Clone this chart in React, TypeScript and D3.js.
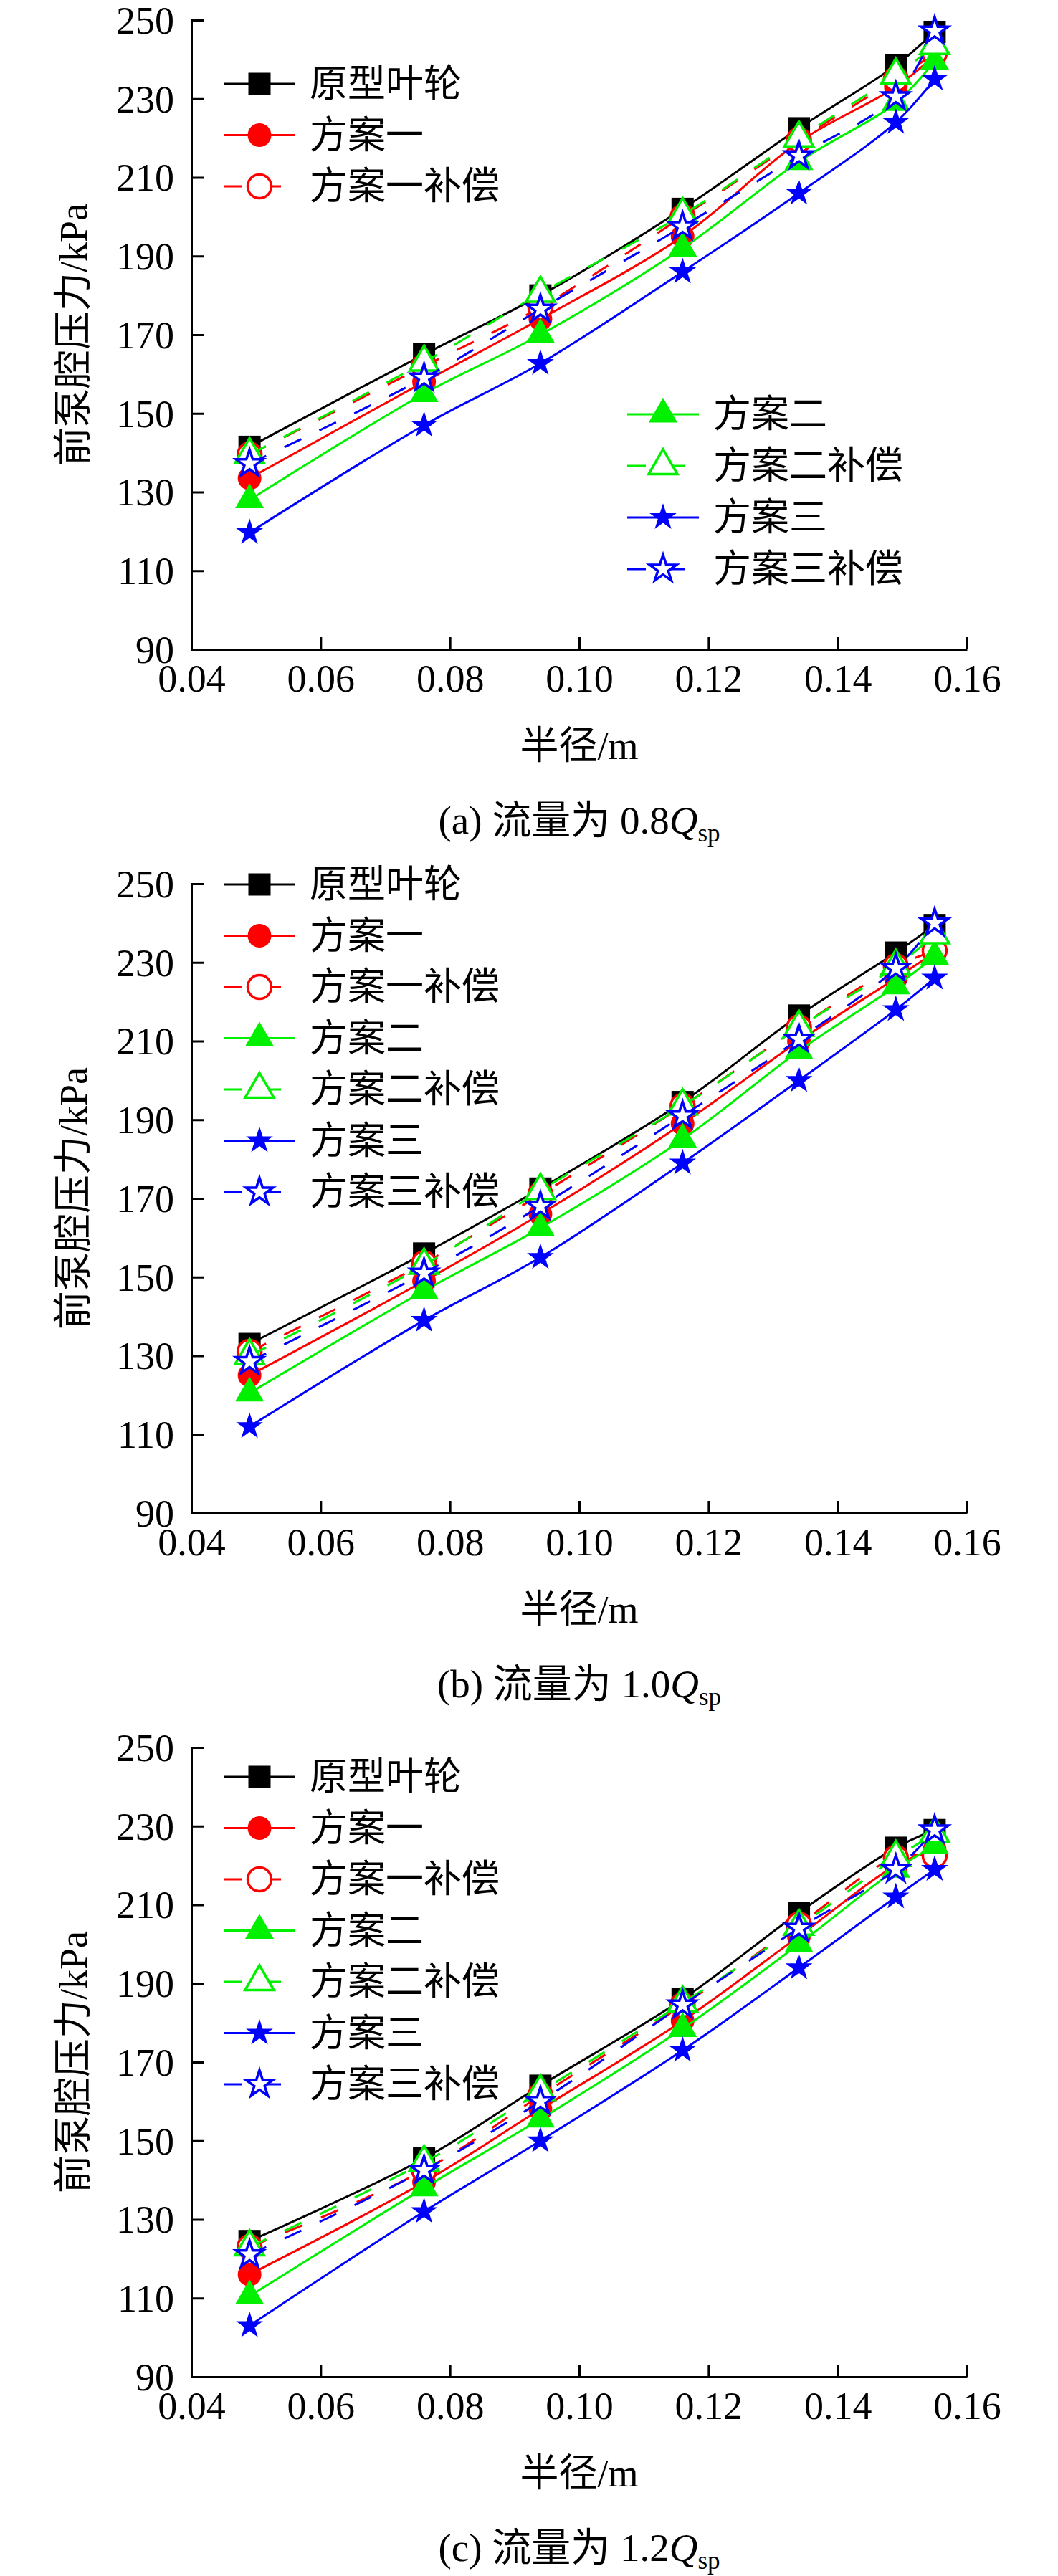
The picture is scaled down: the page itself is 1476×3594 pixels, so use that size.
import React, { useEffect, useRef } from "react";
import * as d3 from "d3";

// 半径 (m)
const radius = [0.049, 0.076, 0.094, 0.116, 0.134, 0.149, 0.155];
const xTicks = [0.04, 0.06, 0.08, 0.1, 0.12, 0.14, 0.16];
const yTicks = [90, 110, 130, 150, 170, 190, 210, 230, 250];

const seriesNames = ["原型叶轮", "方案一", "方案一补偿", "方案二", "方案二补偿", "方案三", "方案三补偿"];
const captionLabels = ["(a) 流量为 0.8", "(b) 流量为 1.0", "(c) 流量为 1.2"];

// 前泵腔压力 (kPa), 0.8Qsp
const q08Proto = [141.5, 165, 180, 202, 222.5, 238.5, 247];
const q08S1 = [133.5, 158, 174, 195, 219, 233, 241];
const q08S1c = [139.5, 162, 177, 200, 219.5, 235, 241.5];
const q08S2 = [128, 155, 170, 192, 214, 229, 239.5];
const q08S2c = [139.5, 163, 180.5, 200.5, 220, 236, 243.5];
const q08S3 = [119.7, 147, 162.7, 186, 206, 224, 235];
const q08S3c = [137.2, 159, 176.5, 197.5, 215.5, 230.5, 247.2];

// 1.0Qsp
const q10Proto = [133, 156, 172.5, 194.5, 216.5, 232.5, 239.5];
const q10S1 = [125, 149, 166, 189, 210, 226, 232.5];
const q10S1c = [131, 153.5, 171, 193.5, 213.5, 229, 233];
const q10S2 = [120.5, 146.5, 162.5, 185, 207.5, 224, 231.5];
const q10S2c = [130, 153, 172, 193.5, 213.5, 229, 237];
const q10S3 = [112, 139, 155, 179, 200, 218, 226];
const q10S3c = [128.5, 151, 168, 191, 210.5, 228.5, 240];

// 1.2Qsp
const q12Proto = [124.5, 145.5, 164, 186, 208, 224.5, 229];
const q12S1 = [116, 139.5, 158, 180.5, 202, 220, 224];
const q12S1c = [123, 142.5, 161.5, 184.5, 205, 222, 222.5];
const q12S2 = [110.5, 138, 155.5, 178.5, 200, 219, 225];
const q12S2c = [123, 144.5, 162.5, 185, 204.5, 222, 228];
const q12S3 = [103, 132, 150, 173, 194, 212, 219];
const q12S3c = [121, 142.5, 160, 184.5, 204, 219, 229];

const panelValues = [
  [q08Proto, q08S1, q08S1c, q08S2, q08S2c, q08S3, q08S3c],
  [q10Proto, q10S1, q10S1c, q10S2, q10S2c, q10S3, q10S3c],
  [q12Proto, q12S1, q12S1c, q12S2, q12S2c, q12S3, q12S3c],
];

// styles per series
const seriesColor = ["#000000", "#ff0000", "#ff0000", "#00f000", "#00f000", "#0000ff", "#0000ff"];
const seriesShape = ["square", "circle", "circle", "triangle", "triangle", "star", "star"];
const seriesFilled = [true, true, false, true, false, true, false];
const seriesDashed = [false, false, true, false, true, false, true];

const WIDTH = 1476;
const HEIGHT = 3594;
const PLOT_LEFT = 267;
const PLOT_RIGHT = 1349;
const PLOT_HEIGHT = 878;
const PANEL_TOPS = [28, 1233, 2438];
const SERIF = "'Liberation Serif', 'Times New Roman', 'Noto Sans CJK SC', serif";

const symbolFor = (shape: string) => {
  if (shape === "square") return d3.symbol(d3.symbolSquare, 31 * 31);
  if (shape === "circle") return d3.symbol(d3.symbolCircle, Math.PI * 16.5 * 16.5);
  if (shape === "triangle") return d3.symbol(d3.symbolTriangle, 700);
  return d3.symbol(d3.symbolStar, 440);
};

const drawMarker = (g: any, i: number, cx: number, cy: number) => {
  const filled = seriesFilled[i];
  g.append("path")
    .attr("d", symbolFor(seriesShape[i])())
    .attr("transform", `translate(${cx},${cy})`)
    .attr("fill", filled ? seriesColor[i] : "#ffffff")
    .attr("stroke", filled ? "none" : seriesColor[i])
    .attr("stroke-width", filled ? 0 : 3.5);
};

// legend rows: [series, x, offset from panel top]
const legendLayout = (p: number) => {
  if (p === 0) {
    return [
      [0, 312, 89], [1, 312, 160.5], [2, 312, 232],
      [3, 875, 550], [4, 875, 622], [5, 875, 694], [6, 875, 766],
    ];
  }
  const start = p === 1 ? 1 : 41;
  return seriesNames.map((_, i) => [i, 312, start + i * 71.5]);
};

const App: React.FC = () => {
  const svgRef = useRef<SVGSVGElement>(null);

  useEffect(() => {
    if (!svgRef.current) return;
    const svg = d3.select(svgRef.current);
    svg.selectAll("*").remove();

    const x = d3.scaleLinear().domain([0.04, 0.16]).range([PLOT_LEFT, PLOT_RIGHT]);
    const midX = (PLOT_LEFT + PLOT_RIGHT) / 2;

    PANEL_TOPS.forEach((top, p) => {
      const bottom = top + PLOT_HEIGHT;
      const y = d3.scaleLinear().domain([90, 250]).range([bottom, top]);
      const g = svg.append("g");

      // Axes
      const xAxis = d3
        .axisBottom(x)
        .tickValues(xTicks)
        .tickFormat(d3.format(".2f") as any)
        .tickSizeInner(-17)
        .tickSizeOuter(0);
      g.append("g")
        .attr("transform", `translate(0,${bottom})`)
        .call(xAxis)
        .attr("font-family", SERIF)
        .attr("font-size", 54)
        .call((s) => s.select(".domain").attr("stroke-width", 3))
        .call((s) => s.selectAll(".tick line").attr("stroke-width", 3))
        .call((s) => s.selectAll(".tick text").attr("y", 59).attr("dy", null));

      const yAxis = d3
        .axisLeft(y)
        .tickValues(yTicks)
        .tickFormat(d3.format("d") as any)
        .tickSizeInner(-17)
        .tickSizeOuter(0)
        .tickPadding(24);
      g.append("g")
        .attr("transform", `translate(${PLOT_LEFT},0)`)
        .call(yAxis)
        .attr("font-family", SERIF)
        .attr("font-size", 54)
        .call((s) => s.select(".domain").attr("stroke-width", 3))
        .call((s) => s.selectAll(".tick line").attr("stroke-width", 3))
        .call((s) => s.selectAll(".tick text").attr("dy", "0.34em"));

      // Titles
      g.append("text")
        .attr("transform", `translate(103,${top + PLOT_HEIGHT / 2}) rotate(-90)`)
        .attr("text-anchor", "middle")
        .attr("dominant-baseline", "central")
        .attr("font-family", SERIF)
        .attr("font-size", 54)
        .text("前泵腔压力/kPa");

      g.append("text")
        .attr("x", midX)
        .attr("y", bottom + 153)
        .attr("text-anchor", "middle")
        .attr("font-family", SERIF)
        .attr("font-size", 54)
        .text("半径/m");

      const cap = g
        .append("text")
        .attr("x", midX)
        .attr("y", bottom + 257)
        .attr("text-anchor", "middle")
        .attr("font-family", SERIF)
        .attr("font-size", 55);
      cap.append("tspan").text(captionLabels[p]);
      cap.append("tspan").attr("font-style", "italic").text("Q");
      cap.append("tspan").attr("font-size", 35).attr("dy", 11).text("sp");

      // Series
      const line = d3
        .line<number>()
        .x((_, i) => x(radius[i]))
        .y((d) => y(d))
        .curve(d3.curveCatmullRom.alpha(0.5));

      panelValues[p].forEach((vals, i) => {
        g.append("path")
          .attr("d", line(vals))
          .attr("fill", "none")
          .attr("stroke", seriesColor[i])
          .attr("stroke-width", 3)
          .attr("stroke-dasharray", seriesDashed[i] ? "26 28" : null);
        vals.forEach((v, k) => drawMarker(g, i, x(radius[k]), y(v)));
      });

      // Legend
      legendLayout(p).forEach(([i, lx, off]) => {
        const ly = top + (off as number);
        g.append("line")
          .attr("x1", lx)
          .attr("x2", (lx as number) + 100)
          .attr("y1", ly)
          .attr("y2", ly)
          .attr("stroke", seriesColor[i as number])
          .attr("stroke-width", 3)
          .attr("stroke-dasharray", seriesDashed[i as number] ? "26 28" : null);
        drawMarker(g, i as number, (lx as number) + 50, ly);
        g.append("text")
          .attr("x", (lx as number) + 120)
          .attr("y", ly)
          .attr("dominant-baseline", "central")
          .attr("font-family", SERIF)
          .attr("font-size", 53)
          .text(seriesNames[i as number]);
      });
    });
  }, []);

  return (
    <svg
      ref={svgRef}
      width={WIDTH}
      height={HEIGHT}
      style={{ position: "absolute", left: 0, top: 0, background: "#fff" }}
    />
  );
};

export default App;
